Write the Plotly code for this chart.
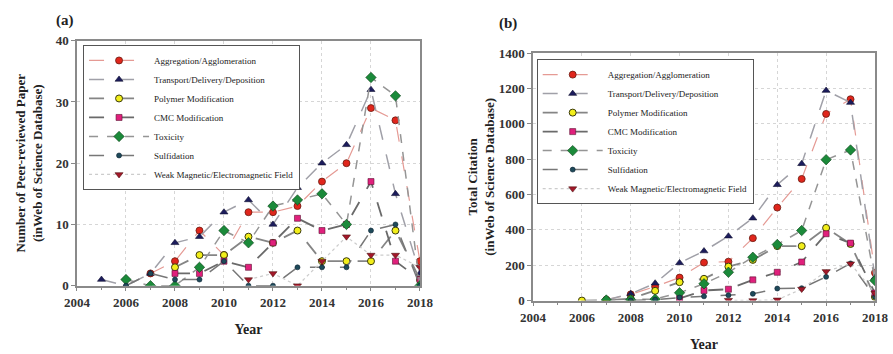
import plotly.graph_objects as go

# ---------------- data ----------------
years_a = [2005, 2006, 2007, 2008, 2009, 2010, 2011, 2012, 2013, 2014, 2015, 2016, 2017, 2018]
years_b = [2006, 2007, 2008, 2009, 2010, 2011, 2012, 2013, 2014, 2015, 2016, 2017, 2018]

series_names = [
    "Aggregation/Agglomeration",
    "Transport/Delivery/Deposition",
    "Polymer Modification",
    "CMC Modification",
    "Toxicity",
    "Sulfidation",
    "Weak Magnetic/Electromagnetic Field",
]

# (a) Number of peer-reviewed papers
papers_aggregation = [None, None, 2, 4, 9, 5, 12, 12, 13, 17, 20, 29, 27, 4]
papers_transport = [1, 0, 2, 7, 8, 12, 14, 10, 16, 20, 23, 32, 15, 2]
papers_polymer = [None, None, None, 3, 5, 5, 8, 7, 9, 4, 4, 4, 9, 1]
papers_cmc = [None, None, None, 2, 2, 4, 3, 7, 11, 9, 10, 17, 4, 1]
papers_toxicity = [None, 1, 0, 0, 3, 9, 7, 13, 14, 15, 10, 34, 31, 0]
papers_sulfidation = [None, 0, 2, 1, 1, 4, 0, 0, 3, 3, 3, 9, 10, 0]
papers_magnetic = [None, None, None, None, None, None, 1, 2, 0, 4, 8, 5, 5, 3]

# (b) Total citations
cite_aggregation = [None, 5, 35, 79, 130, 215, 220, 353, 526, 688, 1056, 1139, 157]
cite_transport = [None, 3, 38, 98, 213, 280, 364, 466, 655, 774, 1188, 1120, 130]
cite_polymer = [0, 2, 10, 55, 104, 123, 192, 230, 308, 308, 411, 320, 20]
cite_cmc = [None, None, None, None, 12, 57, 64, 117, 160, 218, 378, 325, 42]
cite_toxicity = [None, 3, 4, 8, 44, 95, 160, 245, 317, 396, 797, 852, 113]
cite_sulfidation = [None, None, 0, 5, 17, 24, 30, 38, 68, 70, 134, 210, 20]
cite_magnetic = [None, None, None, None, None, None, 2, 0, 4, 65, 165, 208, 42]

y_ticks_a = [0, 10, 20, 30, 40]
y_ticks_b = [0, 200, 400, 600, 800, 1000, 1200, 1400]
x_ticks = [2004, 2006, 2008, 2010, 2012, 2014, 2016, 2018]

# ---------------- styles ----------------
styles = [
    dict(line=dict(color="#e59a94", width=1.2, dash="longdash"),
         marker=dict(symbol="circle", color="#e0261c", size=7, line=dict(color="#6a1a10", width=0.8))),
    dict(line=dict(color="#a0a0a8", width=1.5, dash="longdash"),
         marker=dict(symbol="triangle-up", color="#1c1c5c", size=7, line=dict(color="#101030", width=0.6))),
    dict(line=dict(color="#858585", width=1.8, dash="longdash"),
         marker=dict(symbol="circle", color="#f2ee1a", size=7, line=dict(color="#3a3a10", width=1))),
    dict(line=dict(color="#6a6a6a", width=1.8, dash="longdash"),
         marker=dict(symbol="square", color="#e0207c", size=6, line=dict(color="#5a1030", width=0.6))),
    dict(line=dict(color="#959595", width=1.5, dash="dash"),
         marker=dict(symbol="diamond", color="#1b8a3a", size=8, line=dict(color="#0c4018", width=0.6))),
    dict(line=dict(color="#777777", width=1.5, dash="longdash"),
         marker=dict(symbol="circle", color="#1e4a5a", size=5, line=dict(color="#0a2030", width=0.6))),
    dict(line=dict(color="#cccccc", width=1.2, dash="dot"),
         marker=dict(symbol="triangle-down", color="#a3182a", size=7, line=dict(color="#501010", width=0.6))),
]

papers = [papers_aggregation, papers_transport, papers_polymer, papers_cmc,
          papers_toxicity, papers_sulfidation, papers_magnetic]
cites = [cite_aggregation, cite_transport, cite_polymer, cite_cmc,
         cite_toxicity, cite_sulfidation, cite_magnetic]

fig = go.Figure()
for name, vals, st in zip(series_names, papers, styles):
    fig.add_trace(go.Scatter(x=years_a, y=vals, name=name, mode="lines+markers",
                             line=st["line"], marker=st["marker"], connectgaps=False,
                             xaxis="x", yaxis="y", legend="legend"))
for name, vals, st in zip(series_names, cites, styles):
    fig.add_trace(go.Scatter(x=years_b, y=vals, name=name, mode="lines+markers",
                             line=st["line"], marker=st["marker"], connectgaps=False,
                             xaxis="x2", yaxis="y2", legend="legend2"))

SERIF = "Liberation Serif"
tickfont = dict(family=SERIF, size=13, color="#333333", weight="bold")
titlefont = dict(family=SERIF, size=13, color="#222222", weight="bold")

def xaxis_cfg(domain, anchor):
    return dict(domain=domain, anchor=anchor, range=[2004, 2018],
                tickvals=x_ticks, ticks="outside", ticklen=4, tickcolor="#888",
                tickfont=tickfont, showline=True, linecolor="#8a8a8a", linewidth=1.5,
                mirror=True, showgrid=True, gridcolor="#d6d6d6", griddash="dot",
                zeroline=False,
                minor=dict(dtick=1, ticks="outside", ticklen=3, tickcolor="#888", showgrid=False),
                title=dict(text="Year", font=dict(family=SERIF, size=14, color="#222", weight="bold"),
                           standoff=15))

def yaxis_cfg(domain, anchor, rng, tv, title, standoff):
    return dict(domain=domain, anchor=anchor, range=rng, tickvals=tv,
                ticks="outside", ticklen=4, tickcolor="#888", tickfont=tickfont,
                showline=True, linecolor="#8a8a8a", linewidth=1.5, mirror=True,
                showgrid=True, gridcolor="#d6d6d6", griddash="dot", zeroline=False,
                title=dict(text=title, font=titlefont, standoff=standoff))

fig.update_layout(
    width=893, height=354,
    margin=dict(l=0, r=0, t=0, b=0, autoexpand=False),
    paper_bgcolor="white", plot_bgcolor="white",
    font=dict(family=SERIF, color="#222"),
    xaxis=xaxis_cfg([0.0862, 0.4703], "y"),
    yaxis=yaxis_cfg([0.193, 0.885], "x", [0, 40], y_ticks_a,
                    "Number of Peer-reviewed Paper<br>(inWeb of Science Database)", 10),
    xaxis2=xaxis_cfg([0.5969, 0.9798], "y2"),
    yaxis2=yaxis_cfg([0.151, 0.850], "x2", [0, 1400], y_ticks_b,
                     "Total Citation<br>(inWeb of Science Database)", 1),
    legend=dict(x=0.093, y=0.873, xanchor="left", yanchor="top",
                bgcolor="white", bordercolor="#555", borderwidth=1,
                font=dict(family=SERIF, size=9, color="#222"), itemwidth=60,
                tracegroupgap=0),
    legend2=dict(x=0.601, y=0.833, xanchor="left", yanchor="top",
                 bgcolor="white", bordercolor="#555", borderwidth=1,
                 font=dict(family=SERIF, size=9, color="#222"), itemwidth=60,
                 tracegroupgap=0),
    showlegend=True,
    annotations=[
        dict(text="(a)", x=0.0728, y=0.943, xref="paper", yref="paper", showarrow=False,
             xanchor="center", yanchor="middle",
             font=dict(family=SERIF, size=15, color="#222", weight="bold")),
        dict(text="(b)", x=0.569, y=0.935, xref="paper", yref="paper", showarrow=False,
             xanchor="center", yanchor="middle",
             font=dict(family=SERIF, size=15, color="#222", weight="bold")),
    ],
)

fig.write_html("out.html",
               post_script="document.body.style.margin='0';document.body.style.overflow='hidden';")
